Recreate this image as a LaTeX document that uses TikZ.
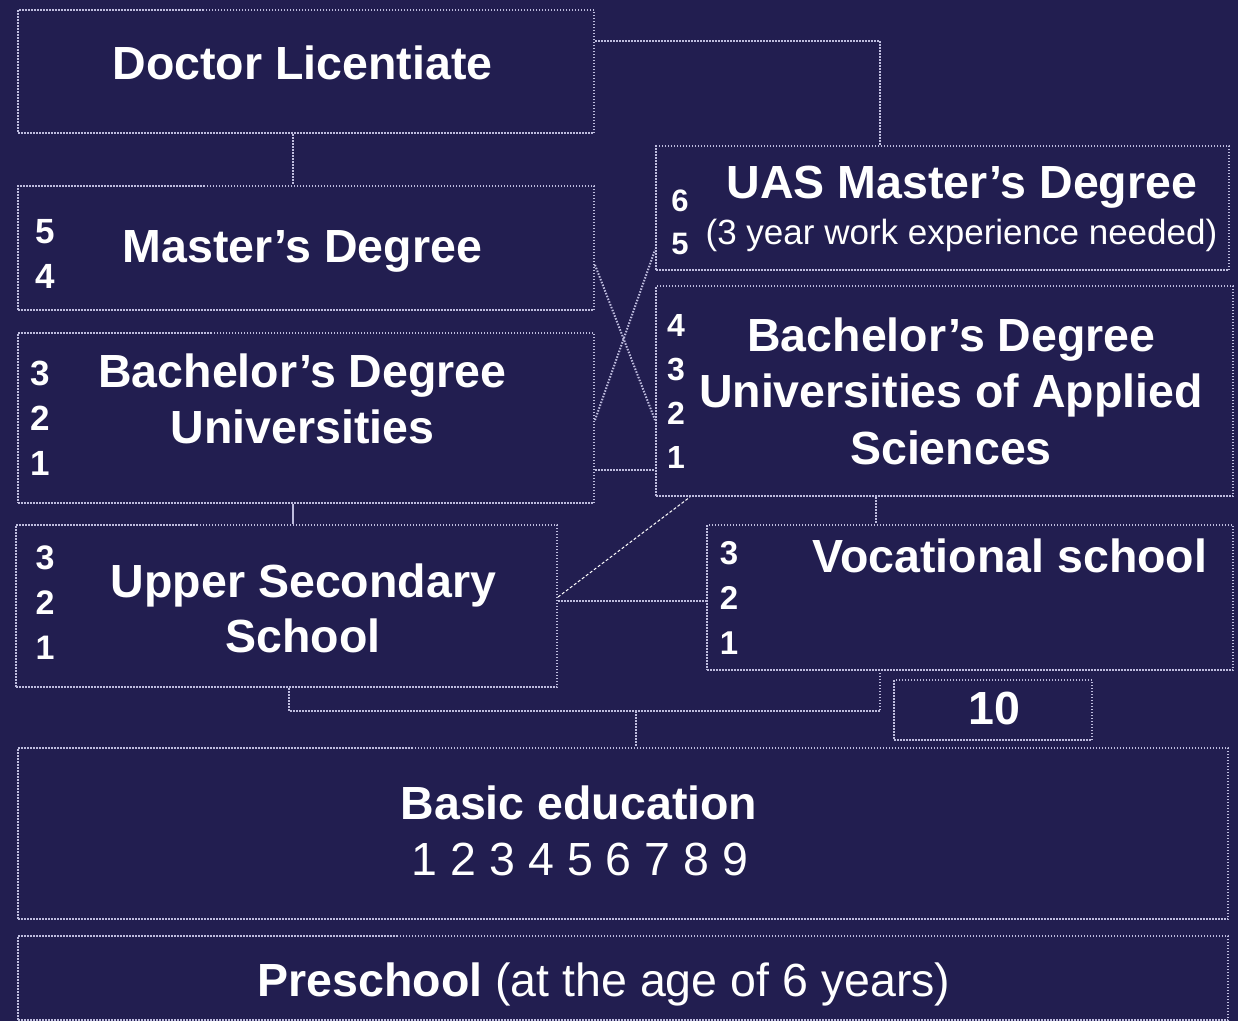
\documentclass[tikz,border=0pt]{standalone}
\usepackage{fontspec}
\setmainfont{Liberation Sans}
\definecolor{navy}{RGB}{34,30,80}
\definecolor{rulec}{RGB}{190,188,222}
\tikzset{
  box/.style={draw=rulec, line width=2pt, dash pattern=on 1.5pt off 1.5pt, inner sep=0pt},
  link/.style={draw=rulec, line width=2pt, dash pattern=on 1.5pt off 1.5pt},
  heading/.style={text=white, anchor=base, inner sep=0pt, font=\bfseries\fontsize{46.5}{56}\selectfont},
  sub/.style={text=white, anchor=base, inner sep=0pt, font=\fontsize{46.5}{56}\selectfont},
  note/.style={text=white, anchor=base, inner sep=0pt, font=\fontsize{35}{42}\selectfont},
  yearnum/.style={text=white, align=center, inner sep=0pt, font=\bfseries\fontsize{#1}{45}\selectfont},
  yearnum/.default=34,
}
\begin{document}
\begin{tikzpicture}[x=1pt,y=-1pt]
\useasboundingbox (0,0) rectangle (1238,1021);
\fill[navy] (0,0) rectangle (1238,1021);
 %% boxes
\node[box, minimum width=576, minimum height=123] (doc) at (306,71.5) {};
\node[box, minimum width=576, minimum height=124] (mast) at (306,248) {};
\node[box, minimum width=576, minimum height=170] (bachu) at (306,418) {};
\node[box, minimum width=541, minimum height=162] (upsec) at (286.5,606) {};
\node[box, minimum width=573, minimum height=124] (uasm) at (942.5,208) {};
\node[box, minimum width=577, minimum height=210] (bachuas) at (944.5,391) {};
\node[box, minimum width=526, minimum height=145] (voc) at (970,597.5) {};
\node[box, minimum width=198, minimum height=60] (ten) at (993,710) {};
\node[box, minimum width=1210, minimum height=171] (basic) at (623,833.5) {};
\node[box, minimum width=1210, minimum height=84] (pre) at (623,978) {};
 %% texts, left column
\node[heading] (doctxt) at (302.5,79) {Doctor Licentiate};
\node[heading] (masttxt) at (302.5,262) {Master’s Degree};
\node[yearnum=35] (mastyr) at (45,254) {5\\4};
\node[heading] (bachutxt) at (302.5,387) {Bachelor’s Degree};
\node[heading] (bachutxtb) at (302.5,443) {Universities};
\node[yearnum=35] (bachuyr) at (40,418) {3\\2\\1};
\node[heading] (upsectxt) at (303.5,597) {Upper Secondary};
\node[heading] (upsectxtb) at (303,652) {School};
\node[yearnum=34] (upsecyr) at (45,603) {3\\2\\1};
 %% texts, right column
\node[heading] (uasmtxt) at (962,198) {UAS Master’s Degree};
\node[note] (uasmnote) at (961.5,244) {(3 year work experience needed)};
\node[yearnum=31] (uasmyr) at (680,222) {6\\[-2pt]5};
\node[heading] (bachuastxt) at (951.5,351) {Bachelor’s Degree};
\node[heading] (bachuastxtb) at (951,407) {Universities of Applied};
\node[heading] (bachuastxtc) at (951,464) {Sciences};
\node[yearnum=32] (bachuasyr) at (676,391) {4\\[-1pt]3\\[-1pt]2\\[-1pt]1};
\node[heading] (voctxt) at (1010,572) {Vocational school};
\node[yearnum=33] (vocyr) at (729,597.5) {3\\2\\1};
\node[heading] (tentxt) at (994.5,724) {10};
 %% texts, bottom
\node[heading] (basictxt) at (579,819) {Basic education};
\node[sub] (basicyr) at (580,875) {1 2 3 4 5 6 7 8 9};
\node[sub] (pretxt) at (604,996) {\textbf{Preschool} (at the age of 6 years)};
 %% connectors
\coordinate (bu1) at ([yshift=-52]bachu.east);
\coordinate (bu2) at ([xshift=-13]bachu.south);
\coordinate (us1) at ([yshift=5]upsec.east);
\coordinate (us2) at ([xshift=2.5]upsec.south);
\coordinate (ba1) at ([xshift=-68.5]bachuas.south);
\coordinate (vc1) at ([xshift=-90]voc.south);
\coordinate (jn) at (636,711);
\draw[link] ([yshift=-32]doc.north east) -| ([xshift=-62.5]uasm.north);
\draw[link] ([xshift=-13]doc.south) -- ([xshift=-13]mast.north);
\draw[link] ([yshift=-17]mast.east) -- ([yshift=-29]bachuas.west);
\draw[link] ([yshift=-2]bachu.east) -- ([yshift=-42]uasm.west);
\draw[link] (bu1) -- (bu1 -| bachuas.west);
\draw[draw=rulec, line width=2pt] (bu2) -- (bu2 |- upsec.north);
\draw[white, line width=1pt, dash pattern=on 3pt off 2pt] ([yshift=9]upsec.east) -- ([xshift=-254.5]bachuas.south);
\draw[link] (us1) -- (us1 -| voc.west);
\draw[link] (ba1) -- (ba1 |- voc.north);
\draw[link] (us2) |- (jn) -| (vc1);
\draw[link] (jn) -- (jn |- basic.north);
\end{tikzpicture}
\end{document}
